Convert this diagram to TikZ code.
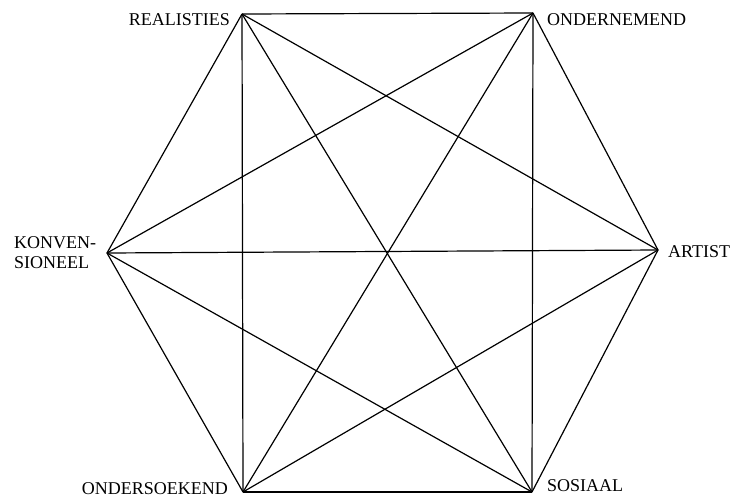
\documentclass[tikz,border=0pt]{standalone}
\usepackage{fontspec}
\setmainfont{Liberation Serif}
\begin{document}
\begin{tikzpicture}[x=1pt,y=-1pt,
  edge/.style={line width=1.2pt,black},
  lab/.style={font=\fontsize{18}{20}\selectfont,inner sep=0pt}]
\useasboundingbox (0,0) rectangle (744,498);
\coordinate (R) at (242,14);
\coordinate (E) at (533,13);
\coordinate (A) at (658,250);
\coordinate (S) at (532,492);
\coordinate (I) at (243,492);
\coordinate (C) at (107,253);
\foreach \a/\b in {R/E,R/C,R/I,R/S,R/A,E/C,E/A,E/S,E/I,C/A,C/I,C/S,A/S,A/I,I/S}
  \draw[edge] (\a) -- (\b);
\node[lab,anchor=east] (lR) at (230,20) {REALISTIES};
\node[lab,anchor=west] (lE) at (547,20) {ONDERNEMEND};
\node[lab,anchor=west] (lA) at (668,252) {ARTIST};
\node[lab,anchor=west] (lS) at (547,486) {SOSIAAL};
\node[lab,anchor=east] (lI) at (228,489) {ONDERSOEKEND};
\node[lab,anchor=west,align=left] (lC) at (14,253) {KONVEN-\\SIONEEL};
\end{tikzpicture}
\end{document}
